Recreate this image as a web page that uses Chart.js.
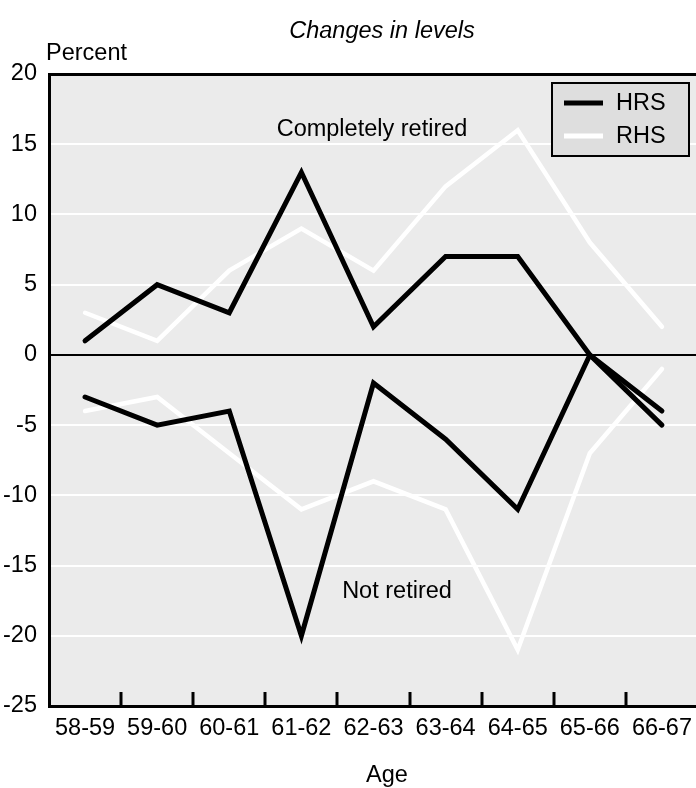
<!DOCTYPE html>
<html>
<head>
<meta charset="utf-8">
<script src="https://cdn.jsdelivr.net/npm/chart.js@4"></script>
<style>
  html, body { margin: 0; padding: 0; overflow: hidden; background: #fff; }
  #wrap { width: 700px; height: 788px; }
</style>
</head>
<body>
<div id="wrap"><canvas id="retireCanvas"></canvas></div>
<script>
// age intervals
const ages = ["58-59", "59-60", "60-61", "61-62", "62-63", "63-64", "64-65", "65-66", "66-67"];

// completely retired
const retiredHRS = [1, 5, 3, 13, 2, 7, 7, 0, -4];
const retiredRHS = [3, 1, 6, 9, 6, 12, 16, 8, 2];

// not retired
const notRetiredHRS = [-3, -5, -4, -20, -2, -6, -11, 0, -5];
const notRetiredRHS = [-4, -3, -7, -11, -9, -11, -21, -7, -1];

const yTicks = [20, 15, 10, 5, 0, -5, -10, -15, -20, -25];

const FONT = "'Liberation Sans', Arial, sans-serif";
const FSIZE = 23.5;

const lineStyle = (color, width) => ({
  borderColor: color,
  borderWidth: width,
  pointRadius: 0,
  fill: false,
  tension: 0,
  borderCapStyle: "round",
  borderJoinStyle: "miter",
});

const decorPlugin = {
  id: "decor",
  beforeDraw: (chart) => {
    const { ctx, chartArea } = chart;
    ctx.save();
    ctx.fillStyle = "#ebebeb";
    ctx.fillRect(chartArea.left, chartArea.top, chartArea.right - chartArea.left, chartArea.bottom - chartArea.top);
    ctx.restore();
  },
  afterDraw: (chart) => {
    const { ctx, chartArea } = chart;
    const xs = chart.scales.x;
    ctx.save();

    // small tick marks between the age groups
    ctx.strokeStyle = "#000";
    ctx.lineWidth = 3;
    for (let i = 1; i < ages.length; i++) {
      const x = Math.round((xs.getPixelForValue(i - 1) + xs.getPixelForValue(i)) / 2);
      ctx.beginPath();
      ctx.moveTo(x, chartArea.bottom);
      ctx.lineTo(x, chartArea.bottom - 14);
      ctx.stroke();
    }

    // texts
    ctx.fillStyle = "#000";
    ctx.textAlign = "center";
    ctx.textBaseline = "middle";
    ctx.font = "italic " + FSIZE + "px " + FONT;
    ctx.fillText("Changes in levels", 382, 31);
    ctx.font = FSIZE + "px " + FONT;
    ctx.fillText("Completely retired", 372, 130);
    ctx.fillText("Not retired", 397, 592);
    ctx.fillText("Age", 387, 776);
    ctx.textAlign = "left";
    ctx.fillText("Percent", 46, 54);

    // legend box
    const lx = 552, ly = 83, lw = 137, lh = 73;
    ctx.fillStyle = "#dedede";
    ctx.fillRect(lx, ly, lw, lh);
    ctx.strokeStyle = "#000";
    ctx.lineWidth = 2;
    ctx.strokeRect(lx, ly, lw, lh);
    const entries = [
      { label: "HRS", color: "#000", width: 5, y: 103 },
      { label: "RHS", color: "#fff", width: 5, y: 136 },
    ];
    entries.forEach((e) => {
      ctx.strokeStyle = e.color;
      ctx.lineWidth = e.width;
      ctx.beginPath();
      ctx.moveTo(564, e.y);
      ctx.lineTo(603, e.y);
      ctx.stroke();
      ctx.fillStyle = "#000";
      ctx.fillText(e.label, 616, e.y + 1);
    });

    ctx.restore();
  },
};

const retireChart = new Chart(document.getElementById("retireCanvas"), {
  type: "line",
  data: {
    labels: ages,
    datasets: [
      { label: "HRS", data: retiredHRS, ...lineStyle("#000", 5) },
      { label: "RHS", data: retiredRHS, ...lineStyle("#fff", 4.5) },
      { label: "HRS", data: notRetiredHRS, ...lineStyle("#000", 5) },
      { label: "RHS", data: notRetiredRHS, ...lineStyle("#fff", 4.5) },
    ],
  },
  options: {
    responsive: true,
    maintainAspectRatio: false,
    animation: false,
    events: [],
    layout: { padding: { top: 74, right: 0, bottom: 0, left: 0 } },
    plugins: {
      legend: { display: false },
      title: { display: false },
      tooltip: { enabled: false },
    },
    scales: {
      x: {
        type: "category",
        offset: true,
        grid: { display: false, drawTicks: false },
        border: { display: true, color: "#000", width: 3 },
        ticks: {
          color: "#000",
          font: { family: FONT, size: FSIZE },
          padding: 8,
          maxRotation: 0,
          autoSkip: false,
        },
        afterFit: (scale) => {
          scale.height = 82;
        },
      },
      y: {
        min: -25,
        max: 20,
        afterBuildTicks: (scale) => {
          scale.ticks = yTicks.map((v) => ({ value: v }));
        },
        grid: {
          drawTicks: false,
          color: (c) => (c.tick && (c.tick.value === 0 || c.tick.value === 20) ? "#000" : "#fff"),
          lineWidth: (c) => (c.tick && c.tick.value === 20 ? 3 : 2),
        },
        border: { display: true, color: "#000", width: 3 },
        ticks: {
          color: "#000",
          font: { family: FONT, size: FSIZE },
          padding: 12,
        },
        afterFit: (scale) => {
          scale.width = 49;
        },
      },
    },
  },
  plugins: [decorPlugin],
});
</script>
</body>
</html>
